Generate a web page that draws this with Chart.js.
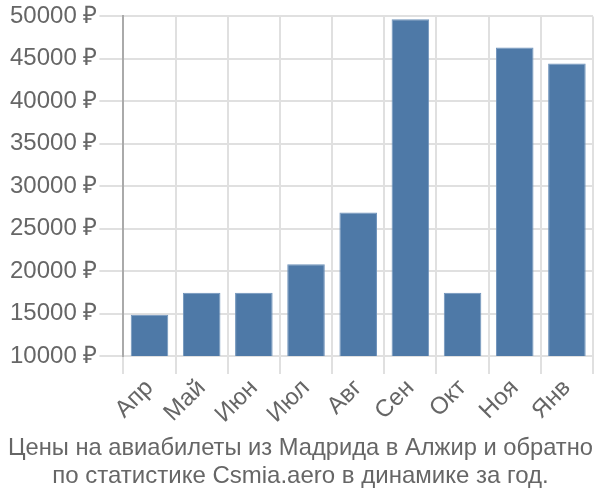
<!DOCTYPE html>
<html>
<head>
<meta charset="utf-8">
<script src="https://cdn.jsdelivr.net/npm/chart.js@4"></script>
<style>
  html, body { margin: 0; padding: 0; background: #fff; }
  #wrap { width: 600px; height: 500px; }
</style>
</head>
<body>
<div id="wrap"><canvas id="c" width="600" height="500"></canvas></div>
<script>
// данные графика
const months = ['Апр', 'Май', 'Июн', 'Июл', 'Авг', 'Сен', 'Окт', 'Ноя', 'Янв'];
const prices = [14850, 17450, 17450, 20800, 26900, 49650, 17450, 46350, 44450];
const yMin = 10000;
const yMax = 50000;
const yStep = 5000;
const titleLines = ['Цены на авиабилеты из Мадрида в Алжир и обратно', 'по статистике Csmia.aero в динамике за год.'];

Chart.defaults.font.family = '"Liberation Sans", Arial, sans-serif';
Chart.defaults.color = '#666';

new Chart(document.getElementById('c'), {
    type: 'bar',
    data: {
        labels: months,
        datasets: [{
            data: prices,
            backgroundColor: '#4e79a7',
            borderColor: '#6f93bb',
            borderWidth: 1,
            categoryPercentage: 0.72,
            barPercentage: 1
        }]
    },
    options: {
        responsive: false,
        animation: false,
        layout: { padding: { left: 8, right: 7, top: 4, bottom: 0 } },
        plugins: {
            legend: { display: false },
            tooltip: { enabled: false },
            title: {
                display: true,
                position: 'bottom',
                text: titleLines,
                color: '#666',
                font: { size: 24, weight: 'normal', lineHeight: 1.15 },
                padding: { top: 6, bottom: 10 }
            }
        },
        scales: {
            x: {
                grid: { color: '#e0e0e0', lineWidth: 2, tickLength: 18, offset: true },
                border: { color: '#e0e0e0', width: 2 },
                ticks: { font: { size: 24 }, maxRotation: 45, minRotation: 45, color: '#666', padding: 0 }
            },
            y: {
                min: yMin,
                max: yMax,
                grid: { color: '#e0e0e0', lineWidth: 2, tickLength: 24 },
                border: { color: '#aaa', width: 2 },
                ticks: {
                    stepSize: yStep,
                    font: { size: 24 },
                    color: '#666',
                    padding: 2,
                    callback: v => v + ' ₽'
                }
            }
        }
    }
});
</script>
</body>
</html>
